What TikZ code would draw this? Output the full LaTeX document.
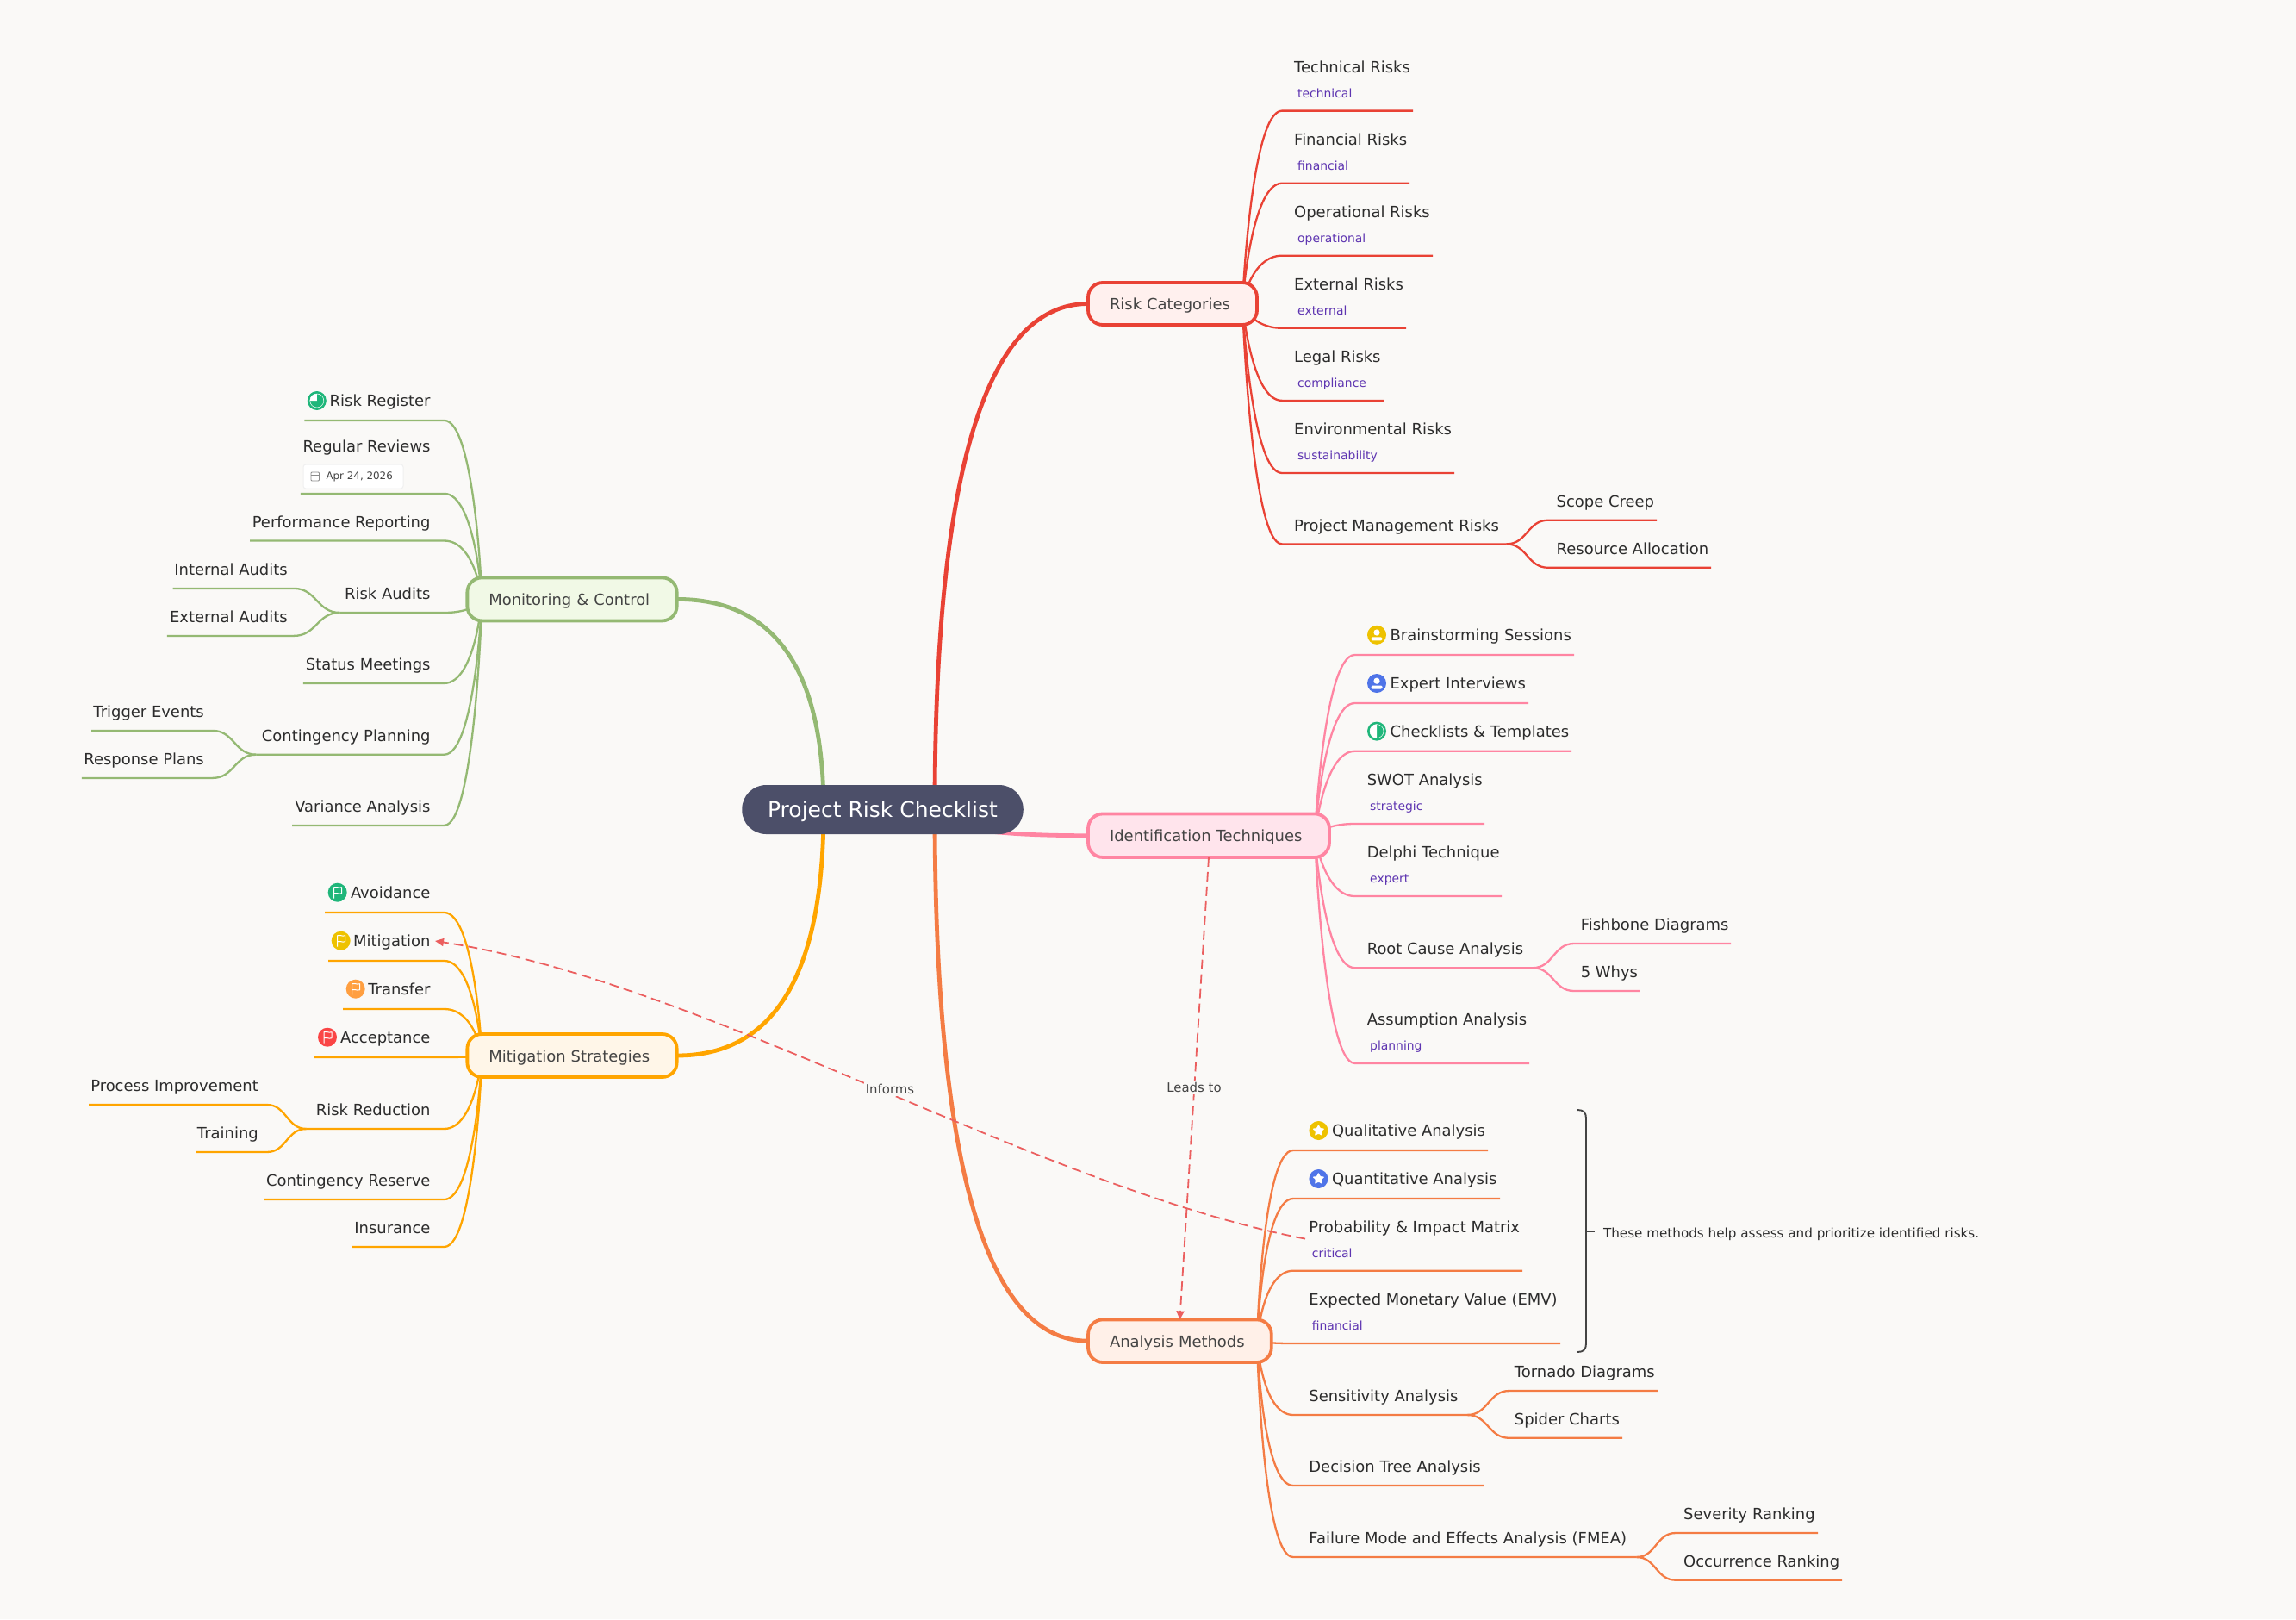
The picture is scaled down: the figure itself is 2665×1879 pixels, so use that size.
\documentclass[tikz,border=0pt]{standalone}
\usepackage{fontspec}
\setmainfont{DejaVu Sans}
\usetikzlibrary{calc,arrows.meta,shapes.geometric}
\pgfdeclarelayer{lines}
\pgfsetlayers{lines,main}
\definecolor{pagebg}{HTML}{FAF9F7}
\definecolor{cR}{HTML}{E94235}
\definecolor{cP}{HTML}{FF85A2}
\definecolor{cC}{HTML}{F47C44}
\definecolor{cG}{HTML}{94B973}
\definecolor{cO}{HTML}{FFA500}
\definecolor{fR}{HTML}{FFF0EE}
\definecolor{fP}{HTML}{FFE4EC}
\definecolor{fC}{HTML}{FFF0E8}
\definecolor{fG}{HTML}{F1F9E6}
\definecolor{fO}{HTML}{FFF6E8}
\definecolor{cRoot}{HTML}{4C4F69}
\definecolor{cTag}{HTML}{5E35B1}
\definecolor{cText}{HTML}{2C2C2C}
\definecolor{cBox}{HTML}{444444}
\definecolor{cDash}{HTML}{EB5F5F}
\definecolor{iY}{HTML}{EEC200}
\definecolor{iB}{HTML}{4F74E8}
\definecolor{iG}{HTML}{1FB67A}
\definecolor{iO}{HTML}{FF9F40}
\definecolor{iR}{HTML}{FA4545}
\tikzset{
  x=1pt,y=-1pt,
  sub/.style={line width=2.3pt},
  mainline/.style={line width=4.8pt},
  topic/.style={draw,rounded corners=17pt,line width=3.8pt,inner xsep=25pt,inner ysep=0pt,outer sep=0pt,align=left,text=cBox,text height=16pt,text depth=1.5pt,font=\fontsize{17.95}{21}\selectfont},
  leaf/.style={inner sep=0pt,yshift=-0.8pt,text=cText,font=\fontsize{17.95}{21}\selectfont},
  tagtext/.style={inner sep=0pt,text=cTag,font=\fontsize{13.9}{16}\selectfont},
  rel/.style={inner sep=2pt,fill=pagebg,text=cBox,font=\fontsize{14.9}{17}\selectfont},
  dashline/.style={draw=cDash,line width=1.8pt,dash pattern=on 11pt off 6pt},
  iconbase/.style={circle,minimum size=22pt,inner sep=0pt,outer sep=0pt},
}
% curved sub-branch leaving a topic to the right / left
\newcommand\subR[6]{\begin{pgfonlayer}{lines}
  \coordinate (#3-s) at (#4,#6); \coordinate (#3-e) at (#5,#6);
  \draw[sub,#1] (#2) .. controls (#2) and ($(#3-s)+(-36,0)$) .. (#3-s) -- (#3-e);
\end{pgfonlayer}}
\newcommand\subL[6]{\begin{pgfonlayer}{lines}
  \coordinate (#3-s) at (#4,#6); \coordinate (#3-e) at (#5,#6);
  \draw[sub,#1] (#2) .. controls (#2) and ($(#3-s)+(36,0)$) .. (#3-s) -- (#3-e);
\end{pgfonlayer}}
% S-curve child of a sub-branch
\newcommand\kid[6]{\begin{pgfonlayer}{lines}
  \coordinate (#3-s) at (#4,#6); \coordinate (#3-e) at (#5,#6);
  \draw[sub,#1] (#2) .. controls ($(#2)!.5!(#3-s |- #2)$) and ($(#3-s)!.5!(#2 |- #3-s)$) .. (#3-s) -- (#3-e);
\end{pgfonlayer}}
\newcommand\mainQ[4]{\begin{pgfonlayer}{lines}
  \coordinate (#3-c) at (#2 |- #4);
  \draw[mainline,#1] (#2) .. controls ($(#2)!.667!(#3-c)$) and ($(#4)!.667!(#3-c)$) .. (#4);
\end{pgfonlayer}}
\newcommand\iconflag[4]{\node[iconbase,fill=#4] (#1) at (#2,#3) {};
  \begin{scope}[shift={(#1)}]
    \draw[white,line width=1pt,line join=round] (-4,7) -- (-4,-6) .. controls (-1,-7.5) and (1,-4.5) .. (5,-6) -- (5,1) .. controls (1,2.5) and (-1,-0.5) .. (-4,1);
  \end{scope}}
\newcommand\iconperson[4]{\node[iconbase,fill=#4] (#1) at (#2,#3) {};
  \begin{scope}[shift={(#1)}]
    \fill[white] (0,-2.8) circle[radius=3.6pt];
    \fill[white,rounded corners=1.5pt] (-6.5,6.5) -- (-6.5,2.5) -- (6.5,2.5) -- (6.5,6.5) -- cycle;
  \end{scope}}
\newcommand\iconstar[4]{\node[iconbase,fill=#4] (#1) at (#2,#3) {};
  \node[star,star points=5,star point ratio=2.1,fill=white,inner sep=0pt,minimum size=15pt,rounded corners=1pt] at (#1) {};}
\begin{document}
\begin{tikzpicture}
\begin{pgfonlayer}{lines}
\fill[pagebg] (0,0) rectangle (2665,1879);
\end{pgfonlayer}
\useasboundingbox (0,0) rectangle (2665,1879);

% ---------- topics ----------
\node[fill=cRoot,rounded corners=28pt,minimum width=326.5pt,minimum height=57pt,inner sep=0pt,outer sep=0pt,text=white,text height=20pt,text depth=2pt,font=\fontsize{25}{30}\selectfont] (root) at (1024.5,939.5) {Project Risk Checklist};
\coordinate (rootR) at (1085,940);
\coordinate (rootL) at (956,940);

\node[topic,draw=cR,fill=fR,text width=146pt,minimum height=49pt] (rc) at (1361,352.5) {Risk Categories};
\node[topic,draw=cP,fill=fP,text width=230pt,minimum height=50.5pt] (id) at (1403,969.7) {Identification Techniques};
\node[topic,draw=cC,fill=fC,text width=162.7pt,minimum height=49.6pt] (an) at (1369.4,1556.2) {Analysis Methods};
\node[topic,draw=cG,fill=fG,text width=193.3pt,minimum height=50pt] (mc) at (664,695.4) {Monitoring \& Control};
\node[topic,draw=cO,fill=fO,text width=193.3pt,minimum height=50pt] (ms) at (664,1225) {Mitigation Strategies};

\coordinate (rco) at (1442,352.5);
\coordinate (ido) at (1526,969.7);
\coordinate (ano) at (1459,1556.2);
\coordinate (mco) at (559.5,695.4);
\coordinate (mso) at (559.5,1225);
\mainQ{cR}{rootR}{m1}{rc.west}
\mainQ{cP}{rootR}{m2}{id.west}
\mainQ{cC}{rootR}{m3}{an.west}
\mainQ{cG}{rootL}{m4}{mc.east}
\mainQ{cO}{rootL}{m5}{ms.east}

% ---------- Risk Categories ----------
\subR{cR}{rco}{r1}{1488}{1640}{128.6}
\subR{cR}{rco}{r2}{1488}{1636}{212.7}
\subR{cR}{rco}{r3}{1488}{1663}{296.7}
\subR{cR}{rco}{r4}{1488}{1632}{380.8}
\subR{cR}{rco}{r5}{1488}{1606}{464.9}
\subR{cR}{rco}{r6}{1488}{1688}{549}
\subR{cR}{rco}{r7}{1488}{1748.5}{631.4}
\kid{cR}{r7-e}{r71}{1797}{1923}{603.7}
\kid{cR}{r7-e}{r72}{1797}{1986}{658.8}
\node[leaf,anchor=base west] (tr1) at (1502,84) {Technical Risks};
\node[tagtext,anchor=base west] (tg1) at (1506,113) {technical};
\node[leaf,anchor=base west] (tr2) at (1502,168) {Financial Risks};
\node[tagtext,anchor=base west] (tg2) at (1506,197) {financial};
\node[leaf,anchor=base west] (tr3) at (1502,252) {Operational Risks};
\node[tagtext,anchor=base west] (tg3) at (1506,281) {operational};
\node[leaf,anchor=base west] (tr4) at (1502,336) {External Risks};
\node[tagtext,anchor=base west] (tg4) at (1506,365) {external};
\node[leaf,anchor=base west] (tr5) at (1502,420) {Legal Risks};
\node[tagtext,anchor=base west] (tg5) at (1506,449) {compliance};
\node[leaf,anchor=base west] (tr6) at (1502,504) {Environmental Risks};
\node[tagtext,anchor=base west] (tg6) at (1506,533) {sustainability};
\node[leaf,anchor=base west] (tr7) at (1502,616) {Project Management Risks};
\node[leaf,anchor=base west] (tr71) at (1806.5,588) {Scope Creep};
\node[leaf,anchor=base west] (tr72) at (1806.5,643) {Resource Allocation};

% ---------- Identification ----------
\subR{cP}{ido}{i1}{1572.5}{1827}{760}
\subR{cP}{ido}{i2}{1572.5}{1774}{816}
\subR{cP}{ido}{i3}{1572.5}{1824}{871.8}
\subR{cP}{ido}{i4}{1572.5}{1723}{956}
\subR{cP}{ido}{i5}{1572.5}{1743}{1040}
\subR{cP}{ido}{i6}{1572.5}{1779}{1123.2}
\kid{cP}{i6-e}{i61}{1827}{2009}{1095}
\kid{cP}{i6-e}{i62}{1827}{1903}{1150}
\subR{cP}{ido}{i7}{1572.5}{1775}{1233.9}
\iconperson{ic1}{1598}{736.8}{iY}
\node[leaf,anchor=base west] (ti1) at (1613.4,743) {Brainstorming Sessions};
\iconperson{ic2}{1598}{793}{iB}
\node[leaf,anchor=base west] (ti2) at (1613.4,799) {Expert Interviews};
\node[iconbase,fill=iG] (ic3) at (1598,848.6) {};
\begin{scope}[shift={(ic3)}]
  \fill[white] (0,-8) arc[start angle=90,end angle=270,radius=8pt] -- cycle;
  \draw[white,line width=.5pt] (0,0) circle[radius=8pt];
\end{scope}
\node[leaf,anchor=base west] (ti3) at (1613.4,855) {Checklists \& Templates};
\node[leaf,anchor=base west] (ti4) at (1586.6,911) {SWOT Analysis};
\node[tagtext,anchor=base west] (tg7) at (1590,940) {strategic};
\node[leaf,anchor=base west] (ti5) at (1586.6,995) {Delphi Technique};
\node[tagtext,anchor=base west] (tg8) at (1590,1024) {expert};
\node[leaf,anchor=base west] (ti6) at (1586.6,1107) {Root Cause Analysis};
\node[leaf,anchor=base west] (ti61) at (1834.6,1079) {Fishbone Diagrams};
\node[leaf,anchor=base west] (ti62) at (1834.6,1134) {5 Whys};
\node[leaf,anchor=base west] (ti7) at (1586.6,1189) {Assumption Analysis};
\node[tagtext,anchor=base west] (tg9) at (1590,1218) {planning};

% ---------- Analysis ----------
\subR{cC}{ano}{a1}{1501}{1727}{1335}
\subR{cC}{ano}{a2}{1501}{1741}{1391}
\subR{cC}{ano}{a3}{1501}{1767}{1474.7}
\subR{cC}{ano}{a4}{1501}{1811}{1559}
\subR{cC}{ano}{a5}{1501}{1703}{1642}
\kid{cC}{a5-e}{a51}{1752}{1924}{1614}
\kid{cC}{a5-e}{a52}{1752}{1883}{1668.8}
\subR{cC}{ano}{a6}{1501}{1722}{1724}
\subR{cC}{ano}{a7}{1501}{1899.4}{1807}
\kid{cC}{a7-e}{a71}{1945}{2110}{1779}
\kid{cC}{a7-e}{a72}{1945}{2138}{1833.7}
\iconstar{ic4}{1530.4}{1312}{iY}
\node[leaf,anchor=base west] (ta1) at (1545.9,1318) {Qualitative Analysis};
\iconstar{ic5}{1530.4}{1368}{iB}
\node[leaf,anchor=base west] (ta2) at (1545.9,1374) {Quantitative Analysis};
\node[leaf,anchor=base west] (ta3) at (1519.2,1430) {Probability \& Impact Matrix};
\node[tagtext,anchor=base west] (tg10) at (1522.7,1459) {critical};
\node[leaf,anchor=base west] (ta4) at (1519.2,1514) {Expected Monetary Value (EMV)};
\node[tagtext,anchor=base west] (tg11) at (1522.7,1543) {financial};
\node[leaf,anchor=base west] (ta5) at (1519.2,1626) {Sensitivity Analysis};
\node[leaf,anchor=base west] (ta51) at (1757.7,1598) {Tornado Diagrams};
\node[leaf,anchor=base west] (ta52) at (1757.7,1653) {Spider Charts};
\node[leaf,anchor=base west] (ta6) at (1519.2,1708) {Decision Tree Analysis};
\node[leaf,anchor=base west] (ta7) at (1519.2,1791) {Failure Mode and Effects Analysis (FMEA)};
\node[leaf,anchor=base west] (ta71) at (1954,1763) {Severity Ranking};
\node[leaf,anchor=base west] (ta72) at (1954,1818) {Occurrence Ranking};
% summary bracket
\draw[cBox,line width=1.9pt] (1831,1288) .. controls (1838,1288) and (1841,1291) .. (1841,1298) -- (1841,1559) .. controls (1841,1566) and (1838,1569) .. (1831,1569);
\coordinate (brk) at (1841,1428.8);
\node[inner sep=0pt,anchor=base west,text=cText,font=\fontsize{15.18}{18}\selectfont] (note) at (1860.8,1436) {These methods help assess and prioritize identified risks.};
\draw[cBox,line width=1.9pt] (brk) -- ++(10,0);

% ---------- Monitoring ----------
\subL{cG}{mco}{g1}{515.6}{353.3}{487.9}
\subL{cG}{mco}{g2}{515.6}{348.9}{572.9}
\subL{cG}{mco}{g3}{515.6}{290.2}{627.5}
\subL{cG}{mco}{g4}{515.6}{394.5}{711}
\kid{cG}{g4-e}{g41}{341}{200.6}{682.9}
\kid{cG}{g4-e}{g42}{341}{193.8}{737.9}
\subL{cG}{mco}{g5}{515.6}{351.8}{792.9}
\subL{cG}{mco}{g6}{515.6}{297.5}{875.7}
\kid{cG}{g6-e}{g61}{246.6}{106}{847.9}
\kid{cG}{g6-e}{g62}{246.6}{94.9}{902.9}
\subL{cG}{mco}{g7}{515.6}{339.2}{957.9}
\node[iconbase,fill=iG] (ic6) at (367.8,465) {};
\begin{scope}[shift={(ic6)}]
  \fill[white] (0,0) -- (0,-8) arc[start angle=90,end angle=180,radius=8pt] -- cycle;
  \draw[white,line width=.5pt] (0,0) circle[radius=8pt];
\end{scope}
\node[leaf,anchor=base east] (tm1) at (499.7,471) {Risk Register};
\node[leaf,anchor=base east] (tm2) at (499.7,524) {Regular Reviews};
\node[draw=black!6,fill=white,rounded corners=3pt,line width=1pt,minimum width=116pt,minimum height=28pt,inner sep=0pt] (dbox) at (410,553) {};
\draw[black!45,line width=.9pt,rounded corners=1pt] (361,548) rectangle (370.5,558);
\draw[black!45,line width=.9pt] (361,551.5) -- (370.5,551.5);
\node[inner sep=0pt,anchor=base west,text=cBox,font=\fontsize{11.9}{14}\selectfont] (dtext) at (378.3,556.5) {Apr 24, 2026};
\node[leaf,anchor=base east] (tm3) at (499.7,612) {Performance Reporting};
\node[leaf,anchor=base east] (tm4) at (499.7,695) {Risk Audits};
\node[leaf,anchor=base east] (tm41) at (333.9,667) {Internal Audits};
\node[leaf,anchor=base east] (tm42) at (333.9,722) {External Audits};
\node[leaf,anchor=base east] (tm5) at (499.7,777) {Status Meetings};
\node[leaf,anchor=base east] (tm6) at (499.7,860) {Contingency Planning};
\node[leaf,anchor=base east] (tm61) at (237,832) {Trigger Events};
\node[leaf,anchor=base east] (tm62) at (237,887) {Response Plans};
\node[leaf,anchor=base east] (tm7) at (499.7,942) {Variance Analysis};

% ---------- Mitigation ----------
\subL{cO}{mso}{o1}{515.6}{377}{1059}
\subL{cO}{mso}{o2}{515.6}{381}{1115}
\subL{cO}{mso}{o3}{515.6}{398}{1171}
\subL{cO}{mso}{o4}{515.6}{365}{1227}
\subL{cO}{mso}{o5}{515.6}{355.7}{1310}
\kid{cO}{o5-e}{o51}{309.6}{103}{1282}
\kid{cO}{o5-e}{o52}{309.6}{227}{1337}
\subL{cO}{mso}{o6}{515.6}{306}{1392}
\subL{cO}{mso}{o7}{515.6}{409}{1447}
\iconflag{ic7}{391.7}{1035.7}{iG}
\iconflag{ic8}{395.7}{1091.7}{iY}
\iconflag{ic9}{412.7}{1147.7}{iO}
\iconflag{ic10}{380}{1203.7}{iR}
\node[leaf,anchor=base east] (ts1) at (499.7,1042) {Avoidance};
\node[leaf,anchor=base east] (ts2) at (499.7,1098) {Mitigation};
\node[leaf,anchor=base east] (ts3) at (499.7,1154) {Transfer};
\node[leaf,anchor=base east] (ts4) at (499.7,1210) {Acceptance};
\node[leaf,anchor=base east] (ts5) at (499.7,1294) {Risk Reduction};
\node[leaf,anchor=base east] (ts51) at (300,1266) {Process Improvement};
\node[leaf,anchor=base east] (ts52) at (300,1321) {Training};
\node[leaf,anchor=base east] (ts6) at (499.7,1376) {Contingency Reserve};
\node[leaf,anchor=base east] (ts7) at (499.7,1431) {Insurance};

% ---------- relations ----------
\coordinate (infFrom) at (1515,1437.6);
\coordinate (infTo) at (505,1092);
\draw[dashline,-{Triangle[length=10pt,width=9pt,fill=cDash]}] (infFrom) .. controls (1200,1377) and (820,1140) .. (infTo);
\draw[dashline,-{Triangle[length=10pt,width=9pt,fill=cDash]}] (id.south) -- (an.north);
\node[rel] (l1) at (1033,1264) {Informs};
\node[rel] (l2) at (1386,1262) {Leads to};
\end{tikzpicture}
\end{document}
